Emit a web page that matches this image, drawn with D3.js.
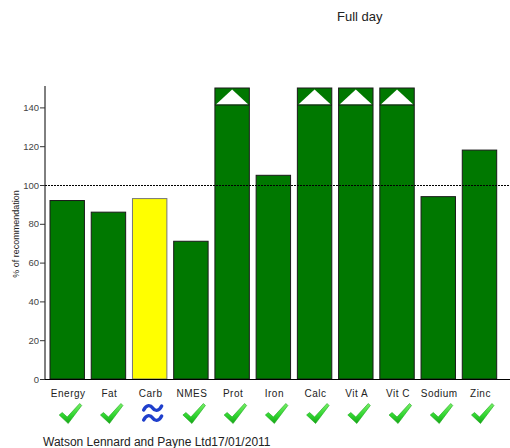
<!DOCTYPE html>
<html>
<head>
<meta charset="utf-8">
<script src="https://cdn.jsdelivr.net/npm/d3@7"></script>
<style>
  body { margin: 0; background: #fff; }
  svg { display: block; font-family: "Liberation Sans", Arial, sans-serif; }
</style>
</head>
<body>
<div id="chart"></div>
<script>
const nutrients = ['Energy', 'Fat', 'Carb', 'NMES', 'Prot', 'Iron', 'Calc', 'Vit A', 'Vit C', 'Sodium', 'Zinc'];
const percents = [92, 86, 93, 71, 180, 105, 210, 260, 320, 94, 118];
const status = ['ok', 'ok', 'approx', 'ok', 'ok', 'ok', 'ok', 'ok', 'ok', 'ok', 'ok'];
const yTicks = [0, 20, 40, 60, 80, 100, 120, 140];
const yMax = 150;
const target = 100;

const width = 510, height = 448;

const svg = d3.select('#chart').append('svg')
  .attr('width', width)
  .attr('height', height);

const defs = svg.append('defs');
const grad = defs.append('linearGradient')
  .attr('id', 'tickGrad')
  .attr('x1', 0).attr('y1', 0).attr('x2', 0).attr('y2', 1);
grad.append('stop').attr('offset', '0%').attr('stop-color', '#77f066');
grad.append('stop').attr('offset', '60%').attr('stop-color', '#2fd52f');
grad.append('stop').attr('offset', '100%').attr('stop-color', '#16a516');

const x = d3.scaleBand()
  .domain(nutrients)
  .range([46.6, 500.1])
  .paddingInner(0.165)
  .paddingOuter(0.0825);

const y = d3.scaleLinear()
  .domain([0, yMax])
  .range([379, 88]);

// Title
svg.append('text')
  .attr('x', 337)
  .attr('y', 21)
  .attr('font-size', 13)
  .attr('fill', '#222')
  .text('Full day');

// Y axis
const yAxis = svg.append('g')
  .attr('transform', 'translate(45,0)')
  .call(d3.axisLeft(y).tickValues(yTicks).tickSize(5).tickSizeOuter(0));
yAxis.select('.domain').attr('stroke', '#000').attr('d', `M0,${y(0)}V${y(yMax) - 2}`);
yAxis.selectAll('.tick line').attr('stroke', '#333');
yAxis.selectAll('.tick text')
  .attr('font-size', 9.5)
  .attr('fill', '#444')
  .attr('x', -6)
  .attr('font-family', '"Liberation Sans", Arial, sans-serif');

svg.append('text')
  .attr('transform', `translate(19,234) rotate(-90)`)
  .attr('text-anchor', 'middle')
  .attr('font-size', 9)
  .attr('fill', '#222')
  .text('% of recommendation');

// Bars
const bars = svg.append('g').selectAll('g')
  .data(nutrients.map((n, i) => ({ name: n, value: percents[i], status: status[i] })))
  .join('g');

bars.append('rect')
  .attr('x', d => x(d.name))
  .attr('width', x.bandwidth())
  .attr('y', d => y(Math.min(d.value, yMax)))
  .attr('height', d => y(0) - y(Math.min(d.value, yMax)))
  .attr('fill', d => d.status === 'approx' ? '#ffff00' : '#007800')
  .attr('stroke', d => d.status === 'approx' ? '#777' : '#1a1a1a')
  .attr('stroke-width', 1);

// Over-range markers
const over = bars.filter(d => d.value > yMax);
const markY = y(141.5);
over.append('path')
  .attr('d', d => {
    const x0 = x(d.name) + 1, x1 = x(d.name) + x.bandwidth() - 1;
    const cx = (x0 + x1) / 2;
    return `M${x0},${markY}L${cx},${y(yMax) + 1.5}L${x1},${markY}Z`;
  })
  .attr('fill', '#fff');
over.append('line')
  .attr('x1', d => x(d.name))
  .attr('x2', d => x(d.name) + x.bandwidth())
  .attr('y1', markY + 0.5)
  .attr('y2', markY + 0.5)
  .attr('stroke', '#1a1a1a')
  .attr('stroke-width', 1);

// Target line
svg.append('line')
  .attr('x1', 45).attr('x2', width)
  .attr('y1', y(target) + 0.5).attr('y2', y(target) + 0.5)
  .attr('stroke', '#000')
  .attr('stroke-width', 1)
  .attr('stroke-dasharray', '2,1');

// X baseline
svg.append('line')
  .attr('x1', 45).attr('x2', width)
  .attr('y1', y(0) + 0.5).attr('y2', y(0) + 0.5)
  .attr('stroke', '#000');

// Category labels
svg.append('g').selectAll('text')
  .data(nutrients)
  .join('text')
  .attr('x', d => x(d) + x.bandwidth() / 2 + 1)
  .attr('y', 397)
  .attr('text-anchor', 'middle')
  .attr('font-size', 10)
  .attr('letter-spacing', 0.5)
  .attr('fill', '#222')
  .text(d => d);

// Status symbols
const sym = svg.append('g').selectAll('g')
  .data(nutrients.map((n, i) => ({ name: n, status: status[i] })))
  .join('g')
  .attr('transform', d => `translate(${x(d.name) + x.bandwidth() / 2 + 3},413)`);

sym.filter(d => d.status === 'ok').append('path')
  .attr('d', 'M-11,2 L-8,-0.5 L-3,4 L9.5,-9.5 L11.5,-7.5 L-2,10.5 Z')
  .attr('fill', 'url(#tickGrad)')
  .attr('stroke', '#1aa51a')
  .attr('stroke-width', 0.6)
  .attr('stroke-linejoin', 'round');

const tilde = 'M-9,2 C-6,-4 -2,-3 0,0 C2,3 6,4 9,-2';
const ap = sym.filter(d => d.status === 'approx');
[-5, 5].forEach(dy => {
  ap.append('path')
    .attr('d', tilde)
    .attr('transform', `translate(0,${dy})`)
    .attr('fill', 'none')
    .attr('stroke', '#1f3fcc')
    .attr('stroke-width', 3.4)
    .attr('stroke-linecap', 'round');
});

// Footer
svg.append('text')
  .attr('x', 43)
  .attr('y', 446)
  .attr('font-size', 12)
  .attr('fill', '#222')
  .text('Watson Lennard and Payne Ltd17/01/2011');
</script>
</body>
</html>
